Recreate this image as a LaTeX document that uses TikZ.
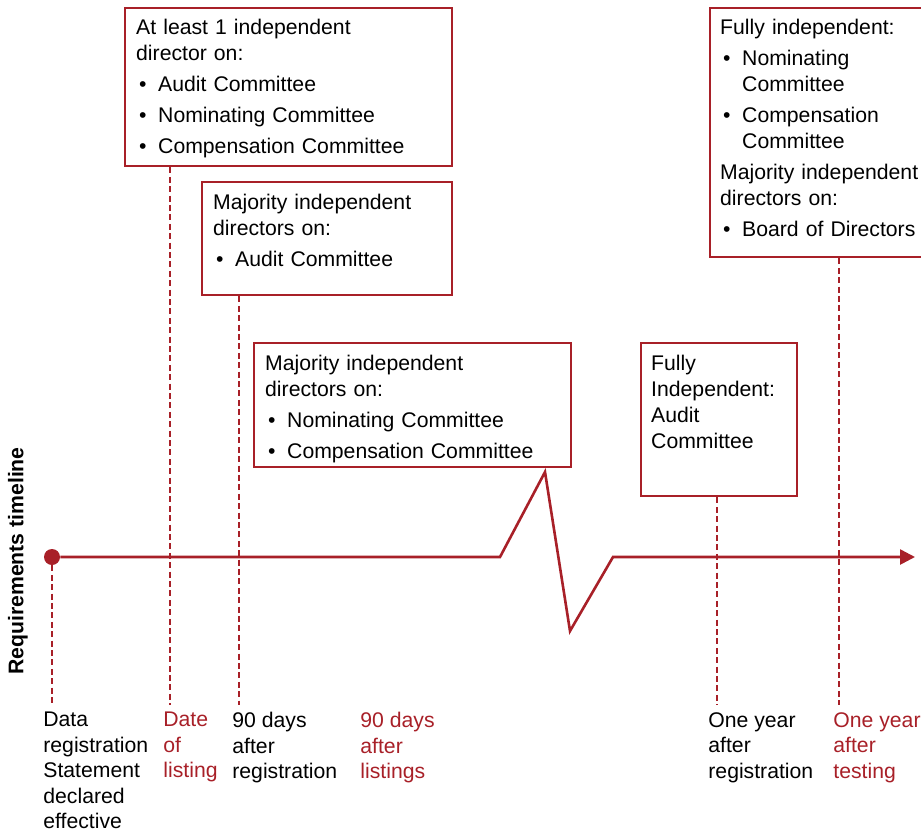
\documentclass[tikz,border=0pt]{standalone}
\usepackage{fontspec}
\setmainfont{Liberation Sans}
\usetikzlibrary{arrows.meta}
\definecolor{tlred}{RGB}{168,32,40}
\newcommand{\tlfont}{\fontsize{10.6}{13}\selectfont}
\newcommand{\tlitem}[1]{\par\vspace{2.5pt}\hangindent=11pt\hangafter=1\noindent\hbox to 11pt{\hspace{1.5pt}\textbullet\hfil}#1}
\newcommand{\tlhead}[1]{\par\vspace{2.5pt}\noindent #1}
\tikzset{
  tlbox/.style={draw=tlred, line width=1.2pt, anchor=north west, inner xsep=5.5pt, inner ysep=0pt, align=left, font=\tlfont},
  tldash/.style={tlred, line width=1.2pt, dash pattern=on 3pt off 1.7pt},
  tlline/.style={tlred, line width=1.3pt},
  tllabel/.style={anchor=north west, inner sep=0pt, align=left, font=\fontsize{10.6}{12.75}\selectfont},
  tlmark/.style={circle, fill=tlred, inner sep=0pt, minimum size=8pt}
}
\begin{document}
\begin{tikzpicture}[x=0.5pt, y=-0.5pt]
		\useasboundingbox (0,0) rectangle (921,831);
		
		% requirement boxes
		\node[tlbox, text width=152.5pt, text height=13pt, text depth=66pt] (req1) at (124,7) {At least 1 independent\\director on:\tlitem{Audit Committee}\tlitem{Nominating Committee}\tlitem{Compensation Committee}};
		\node[tlbox, text width=114pt, text height=13.5pt, text depth=43pt] (req2) at (201,181) {Majority independent\\directors on:\tlitem{Audit Committee}};
		\node[tlbox, text width=147.5pt, text height=13.5pt, text depth=48.5pt] (req3) at (253,342) {Majority independent\\directors on:\tlitem{Nominating Committee}\tlitem{Compensation Committee}};
		\node[tlbox, inner xsep=5pt, text width=68pt, text height=13.5pt, text depth=63pt] (req4) at (640,342) {Fully\\Independent:\\Audit\\Committee};
		\node[tlbox, inner xsep=5pt, text width=110pt, text height=13pt, text depth=111.5pt] (req5) at (709,7) {Fully independent:\tlitem{Nominating\newline Committee}\tlitem{Compensation\newline Committee}\tlhead{Majority independent\newline directors on:}\tlitem{Board of Directors}};
		
		% timeline
		\node[tlmark] (start) at (52,557) {};
		\coordinate (z1) at (500,557);
		\coordinate (z2) at (545,472);
		\coordinate (z3) at (570,631);
		\coordinate (z4) at (613,557);
		\coordinate (stop) at (915,557);
		\draw[tlline, -{Triangle[length=7.5pt, width=7.5pt]}] (start) -- (z1) -- (z2) -- (z3) -- (z4) -- (stop);
		
		% dashed markers
		\coordinate (d0) at (52,705);
		\coordinate (d1) at (170,705);
		\coordinate (d2) at (239,705);
		\coordinate (d4) at (717,705);
		\coordinate (d5) at (839,705);
		\draw[tldash] (start.south) -- (d0);
		\draw[tldash] (d1 |- req1.south) -- (d1);
		\draw[tldash] (d2 |- req2.south) -- (d2);
		\draw[tldash] (d4 |- req4.south) -- (d4);
		\draw[tldash] (d5 |- req5.south) -- (d5);
		
		% labels
		\node[tllabel] (l0) at (43,712) {Data\\registration\\Statement\\declared\\effective};
		\node[tllabel, text=tlred] (l1) at (163,712) {Date\\of\\listing};
		\node[tllabel] (l2) at (232,712) {90 days\\after\\registration};
		\node[tllabel, text=tlred] (l3) at (360,712) {90 days\\after\\listings};
		\node[tllabel] (l4) at (708,712) {One year\\after\\registration};
		\node[tllabel, text=tlred] (l5) at (833,712) {One year\\after\\testing};
		
		\node[font=\tlfont\bfseries, rotate=90] (axis) at (18,561) {Requirements timeline};
		\end{tikzpicture}
\end{document}
